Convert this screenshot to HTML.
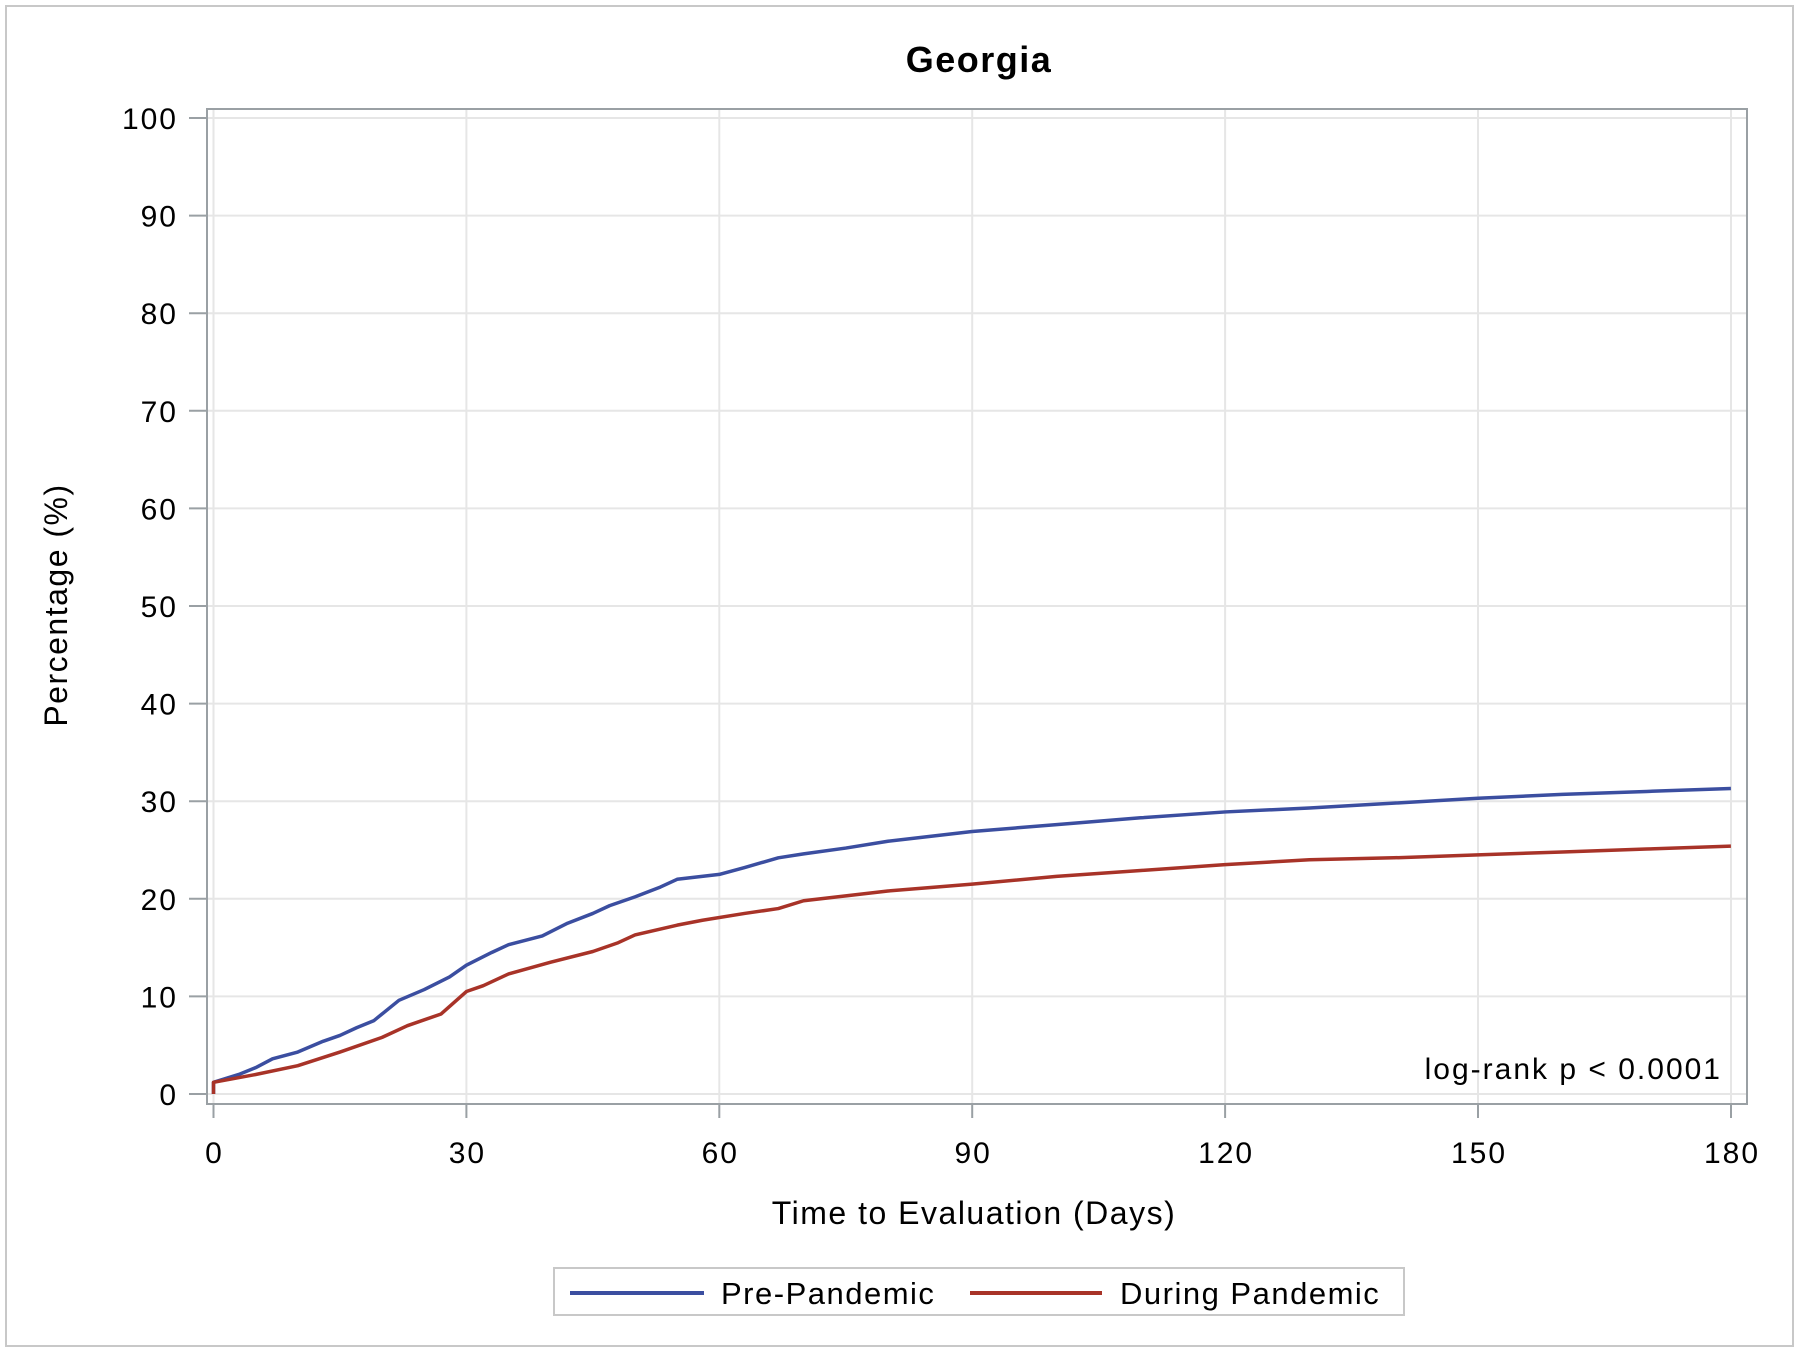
<!DOCTYPE html>
<html><head><meta charset="utf-8"><style>
html,body{margin:0;padding:0;background:#fff;}
svg{display:block;}
text{font-family:"Liberation Sans",sans-serif;fill:#000;}
</style></head><body>
<svg width="1800" height="1353" viewBox="0 0 1800 1353" xmlns="http://www.w3.org/2000/svg">
<rect x="6" y="6" width="1787" height="1340" fill="#fff" stroke="#c8c8c8" stroke-width="2"/>
<text x="979" y="72" font-size="36" font-weight="bold" letter-spacing="1.5" text-anchor="middle">Georgia</text>
<g stroke="#e6e6e6" stroke-width="2">
<line x1="207" x2="1747" y1="118" y2="118"/><line x1="207" x2="1747" y1="215.6" y2="215.6"/>
<line x1="207" x2="1747" y1="313.2" y2="313.2"/><line x1="207" x2="1747" y1="410.8" y2="410.8"/>
<line x1="207" x2="1747" y1="508.4" y2="508.4"/><line x1="207" x2="1747" y1="606" y2="606"/>
<line x1="207" x2="1747" y1="703.6" y2="703.6"/><line x1="207" x2="1747" y1="801.2" y2="801.2"/>
<line x1="207" x2="1747" y1="898.8" y2="898.8"/><line x1="207" x2="1747" y1="996.4" y2="996.4"/>
<line x1="207" x2="1747" y1="1094" y2="1094"/>
<line y1="109" y2="1104" x1="213.5" x2="213.5"/><line y1="109" y2="1104" x1="466.4" x2="466.4"/>
<line y1="109" y2="1104" x1="719.3" x2="719.3"/><line y1="109" y2="1104" x1="972.2" x2="972.2"/>
<line y1="109" y2="1104" x1="1225.1" x2="1225.1"/><line y1="109" y2="1104" x1="1478" x2="1478"/>
<line y1="109" y2="1104" x1="1731" x2="1731"/>
</g>
<rect x="207" y="109" width="1540" height="995" fill="none" stroke="#9aa0a4" stroke-width="2"/>
<g stroke="#9aa0a4" stroke-width="2">
<line x1="189" x2="207" y1="118" y2="118"/><line x1="189" x2="207" y1="215.6" y2="215.6"/>
<line x1="189" x2="207" y1="313.2" y2="313.2"/><line x1="189" x2="207" y1="410.8" y2="410.8"/>
<line x1="189" x2="207" y1="508.4" y2="508.4"/><line x1="189" x2="207" y1="606" y2="606"/>
<line x1="189" x2="207" y1="703.6" y2="703.6"/><line x1="189" x2="207" y1="801.2" y2="801.2"/>
<line x1="189" x2="207" y1="898.8" y2="898.8"/><line x1="189" x2="207" y1="996.4" y2="996.4"/>
<line x1="189" x2="207" y1="1094" y2="1094"/>
<line y1="1104" y2="1118" x1="213.5" x2="213.5"/><line y1="1104" y2="1118" x1="466.4" x2="466.4"/>
<line y1="1104" y2="1118" x1="719.3" x2="719.3"/><line y1="1104" y2="1118" x1="972.2" x2="972.2"/>
<line y1="1104" y2="1118" x1="1225.1" x2="1225.1"/><line y1="1104" y2="1118" x1="1478" x2="1478"/>
<line y1="1104" y2="1118" x1="1731" x2="1731"/>
</g>
<g font-size="30" letter-spacing="2" text-anchor="end">
<text x="178" y="129">100</text><text x="178" y="226.6">90</text><text x="178" y="324.2">80</text>
<text x="178" y="421.8">70</text><text x="178" y="519.4">60</text><text x="178" y="617">50</text>
<text x="178" y="714.6">40</text><text x="178" y="812.2">30</text><text x="178" y="909.8">20</text>
<text x="178" y="1007.4">10</text><text x="178" y="1105">0</text>
</g>
<g font-size="30" letter-spacing="2" text-anchor="middle">
<text x="214.5" y="1163">0</text><text x="467.4" y="1163">30</text><text x="720.3" y="1163">60</text>
<text x="973.2" y="1163">90</text><text x="1226.1" y="1163">120</text><text x="1479" y="1163">150</text>
<text x="1732" y="1163">180</text>
</g>
<text x="974" y="1224" font-size="32" letter-spacing="1.5" text-anchor="middle">Time to Evaluation (Days)</text>
<text transform="translate(67,605) rotate(-90)" font-size="32" letter-spacing="1.5" text-anchor="middle">Percentage (%)</text>
<text x="1722" y="1079" font-size="30" letter-spacing="2" text-anchor="end">log-rank p &lt; 0.0001</text>
<g transform="translate(213.5,1094) scale(8.43,-9.76)" fill="none" stroke-width="3.5" stroke-linejoin="round">
<polyline vector-effect="non-scaling-stroke" stroke="#3b4ea0" points="0,0 0,1.2 3,2 5,2.7 7,3.6 10,4.3 13,5.4 15,6 17,6.8 19,7.5 22,9.6 25,10.7 28,12 30,13.2 33,14.5 35,15.3 39,16.2 42,17.5 45,18.5 47,19.3 50,20.2 53,21.2 55,22 60,22.5 63,23.2 67,24.2 70,24.6 75,25.2 80,25.9 85,26.4 90,26.9 100,27.6 110,28.3 120,28.9 130,29.3 140,29.8 150,30.3 160,30.7 170,31 180,31.3"/>
<polyline vector-effect="non-scaling-stroke" stroke="#a83328" points="0,0 0,1.2 5,2 10,2.9 15,4.3 20,5.8 23,7 27,8.2 30,10.5 32,11.1 35,12.3 40,13.5 45,14.6 48,15.5 50,16.3 55,17.3 58,17.8 63,18.5 67,19 70,19.8 75,20.3 80,20.8 90,21.5 100,22.3 110,22.9 120,23.5 130,24 140,24.2 150,24.5 160,24.8 170,25.1 180,25.4"/>
</g>
<rect x="554" y="1268" width="850" height="47" fill="#fff" stroke="#c8c8c8" stroke-width="2"/>
<line x1="570" x2="704" y1="1293" y2="1293" stroke="#3b4ea0" stroke-width="4"/>
<text x="721" y="1304" font-size="31" letter-spacing="1.5">Pre-Pandemic</text>
<line x1="970" x2="1102" y1="1293" y2="1293" stroke="#a83328" stroke-width="4"/>
<text x="1120" y="1304" font-size="31" letter-spacing="1.5">During Pandemic</text>
</svg>
</body></html>
